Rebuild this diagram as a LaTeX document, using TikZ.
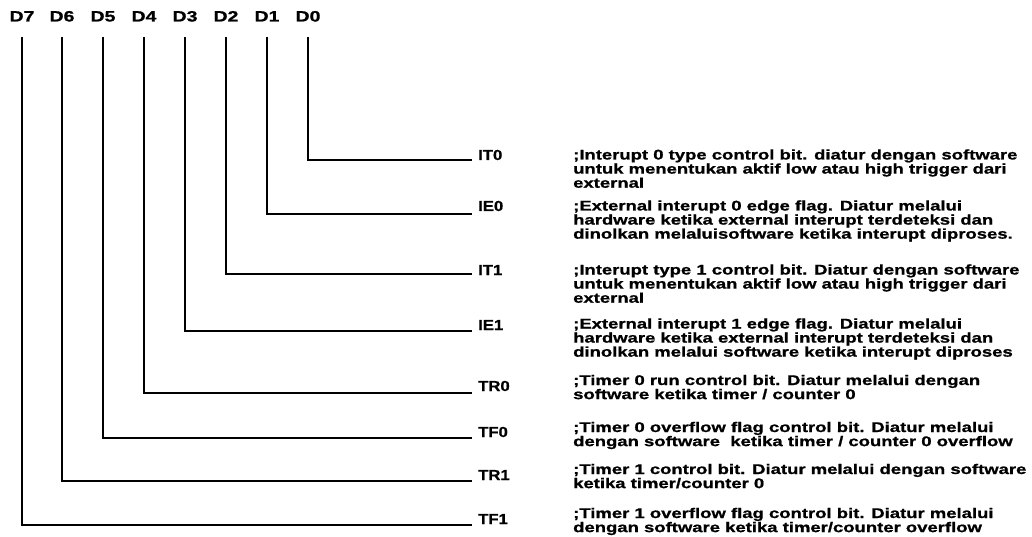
\documentclass[tikz,border=0pt]{standalone}
\usepackage{fontspec}
\setmainfont{Liberation Sans}
\newfontfamily\descfont[FakeStretch=1.32,FakeBold=1]{Liberation Sans}
\newfontfamily\labfont[FakeStretch=1.15,FakeBold=1]{Liberation Sans}
\newfontfamily\bitfont[FakeStretch=1.3,FakeBold=1]{Liberation Sans}
\newcommand\twolines[2]{\vtop{\hbox{#1}\hbox{#2}}}
\newcommand\threelines[3]{\vtop{\hbox{#1}\hbox{#2}\hbox{#3}}}
\begin{document}
\begin{tikzpicture}[x=1pt,y=-1pt,
  bitlbl/.style={inner sep=0pt,anchor=base,font=\bitfont\bfseries\fontsize{15}{15}\selectfont},
  reglbl/.style={inner sep=0pt,anchor=base west,font=\labfont\bfseries\fontsize{14.5}{13}\selectfont},
  desc/.style={inner sep=0pt,anchor=base west,font=\descfont\bfseries\fontsize{14}{13}\selectfont},
  wire/.style={line width=1.6pt}]
\useasboundingbox (0,0) rectangle (1032,537);
% bit headers
\node[bitlbl] (d7) at (22,21.5) {D7};
\node[bitlbl] (d6) at (62,21.5) {D6};
\node[bitlbl] (d5) at (103,21.5) {D5};
\node[bitlbl] (d4) at (144,21.5) {D4};
\node[bitlbl] (d3) at (185,21.5) {D3};
\node[bitlbl] (d2) at (226,21.5) {D2};
\node[bitlbl] (d1) at (267,21.5) {D1};
\node[bitlbl] (d0) at (308,21.5) {D0};
% register bit names
\node[reglbl] (it0) at (478,160) {IT0};
\node[reglbl] (ie0) at (478,211) {IE0};
\node[reglbl] (it1) at (478,275) {IT1};
\node[reglbl] (ie1) at (478,330) {IE1};
\node[reglbl] (tr0) at (478,391) {TR0};
\node[reglbl] (tf0) at (478,437) {TF0};
\node[reglbl] (tr1) at (478,480) {TR1};
\node[reglbl] (tf1) at (478,524) {TF1};
% line ends
\coordinate (e0) at (472,160);
\coordinate (e1) at (472,214);
\coordinate (e2) at (472,274);
\coordinate (e3) at (472,331);
\coordinate (e4) at (472,393);
\coordinate (e5) at (472,438);
\coordinate (e6) at (472,481);
\coordinate (e7) at (472,525);
% connectors
\draw[wire] (d0) ++(0,20.5) |- (e0);
\draw[wire] (d1) ++(0,20.5) |- (e1);
\draw[wire] (d2) ++(0,20.5) |- (e2);
\draw[wire] (d3) ++(0,20.5) |- (e3);
\draw[wire] (d4) ++(0,20.5) |- (e4);
\draw[wire] (d5) ++(0,20.5) |- (e5);
\draw[wire] (d6) ++(0,20.5) |- (e6);
\draw[wire] (d7) ++(0,20.5) |- (e7);
% descriptions
\node[desc] (t0) at (573,159.5) {\threelines{;Interupt 0 type control bit. diatur dengan software}{untuk menentukan aktif low atau high trigger dari}{external}};
\node[desc] (t1) at (573,210.5) {\threelines{;External interupt 0 edge flag. Diatur melalui}{hardware ketika external interupt terdeteksi dan}{dinolkan melaluisoftware ketika interupt diproses.}};
\node[desc] (t2) at (573,274.5) {\threelines{;Interupt type 1 control bit. Diatur dengan software}{untuk menentukan aktif low atau high trigger dari}{external}};
\node[desc] (t3) at (573,328.5) {\threelines{;External interupt 1 edge flag. Diatur melalui}{hardware ketika external interupt terdeteksi dan}{dinolkan melalui software ketika interupt diproses}};
\node[desc] (t4) at (573,385) {\twolines{;Timer 0 run control bit. Diatur melalui dengan}{software ketika timer / counter 0}};
\node[desc] (t5) at (573,432) {\twolines{;Timer 0 overflow flag control bit. Diatur melalui}{dengan software\ \ ketika timer / counter 0 overflow}};
\node[desc] (t6) at (573,474) {\twolines{;Timer 1 control bit. Diatur melalui dengan software}{ketika timer/counter 0}};
\node[desc] (t7) at (573,518) {\twolines{;Timer 1 overflow flag control bit. Diatur melalui}{dengan software ketika timer/counter overflow}};
\end{tikzpicture}
\end{document}
